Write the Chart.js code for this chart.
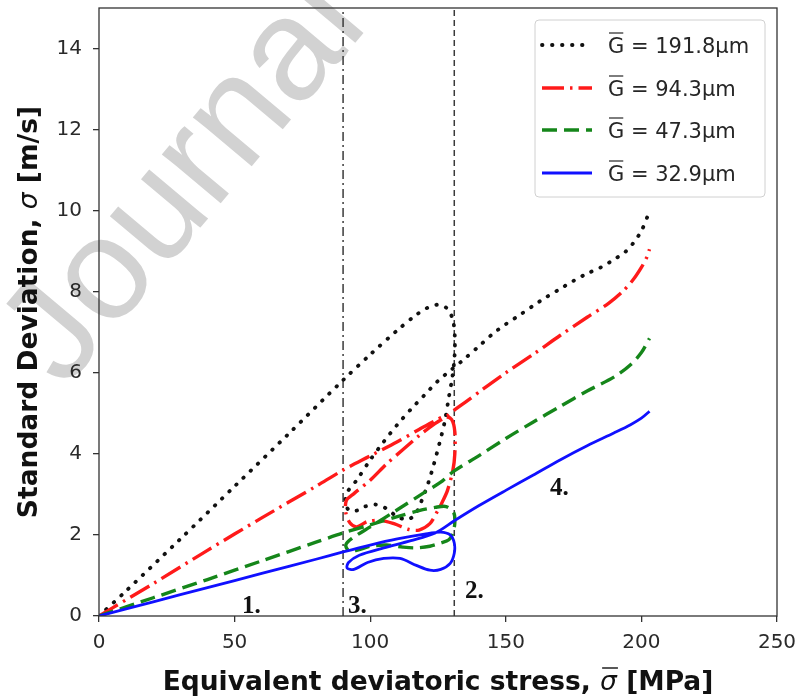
<!DOCTYPE html>
<html>
<head>
<meta charset="utf-8">
<script src="https://cdn.jsdelivr.net/npm/chart.js@4.4.1/dist/chart.umd.min.js"></script>
<style>
  html, body { margin: 0; padding: 0; background: #fff; }
  canvas { display: block; }
</style>
</head>
<body>
<canvas id="grafico" width="799" height="699"></canvas>
<script>
// Datos: tensión equivalente (MPa) y desviación estándar (m/s) por tamaño de grano
const stress191 = [0, 10, 30, 50, 70, 90, 100, 110, 117, 121, 125, 128.5, 130.5, 131.2, 131.1, 130.3, 129, 127.5, 125.5, 123.5, 121.5, 119, 117, 114, 110, 106, 102, 98, 95, 92, 90.8, 91.8, 95, 100, 105, 110, 115, 120, 125, 130, 134, 140, 145, 150, 155, 160, 165, 170, 175, 180, 185, 190, 194, 197, 200, 202.5];
const sd191 = [0, 0.62, 1.9, 3.2, 4.5, 5.82, 6.45, 7.05, 7.43, 7.6, 7.68, 7.58, 7.3, 6.9, 6.4, 5.9, 5.4, 4.8, 4.25, 3.75, 3.3, 2.85, 2.55, 2.38, 2.45, 2.65, 2.75, 2.7, 2.6, 2.62, 2.85, 3.08, 3.35, 3.85, 4.3, 4.72, 5.1, 5.45, 5.8, 6.08, 6.3, 6.65, 6.95, 7.2, 7.42, 7.65, 7.87, 8.07, 8.27, 8.45, 8.6, 8.8, 8.98, 9.2, 9.5, 9.9];

const stress94 = [0, 5, 20, 40, 60, 80, 90, 100, 110, 118, 124, 127.5, 130, 131.2, 131.2, 130.5, 128.5, 126.5, 124.5, 122, 118, 114, 109, 104, 99, 95, 92.5, 91, 91.2, 94, 100, 106, 112, 118, 124, 128, 131, 136, 141, 150, 160, 170, 180, 188, 193, 197, 200, 202, 203];
const sd94 = [0, 0.2, 0.8, 1.62, 2.42, 3.2, 3.6, 3.95, 4.3, 4.6, 4.82, 4.92, 4.85, 4.55, 4.0, 3.6, 3.1, 2.8, 2.55, 2.28, 2.12, 2.14, 2.27, 2.36, 2.33, 2.2, 2.3, 2.55, 2.85, 3.02, 3.35, 3.75, 4.1, 4.45, 4.75, 4.92, 5.08, 5.32, 5.57, 6.0, 6.45, 6.92, 7.37, 7.72, 8.0, 8.3, 8.6, 8.85, 9.05];

const stress47 = [0, 20, 40, 60, 80, 90, 100, 110, 118, 124, 128, 130.8, 131.2, 130.5, 129, 126, 122, 117, 112, 106, 100, 95, 92, 91, 93, 100, 110, 120, 126, 131, 140, 150, 160, 170, 180, 190, 196, 200, 203];
const sd47 = [0, 0.45, 0.9, 1.36, 1.82, 2.05, 2.25, 2.45, 2.6, 2.68, 2.7, 2.55, 2.3, 2.05, 1.88, 1.8, 1.72, 1.68, 1.7, 1.75, 1.72, 1.62, 1.62, 1.75, 1.9, 2.2, 2.62, 3.05, 3.3, 3.58, 3.95, 4.38, 4.78, 5.17, 5.55, 5.9, 6.2, 6.5, 6.85];

const stress32 = [0, 20, 40, 60, 80, 90, 100, 110, 120, 126, 129.5, 131, 131, 129.5, 126, 122, 117, 111, 105, 99, 94, 91.5, 92, 96, 105, 115, 124, 131, 140, 150, 160, 170, 180, 190, 196, 200, 203];
const sd32 = [0, 0.35, 0.7, 1.05, 1.4, 1.58, 1.75, 1.9, 2.02, 2.07, 2.0, 1.8, 1.55, 1.3, 1.15, 1.13, 1.25, 1.42, 1.42, 1.32, 1.15, 1.18, 1.32, 1.5, 1.68, 1.86, 2.05, 2.35, 2.72, 3.1, 3.47, 3.85, 4.2, 4.52, 4.72, 4.88, 5.05];

const grainLabels = ['191.8', '94.3', '47.3', '32.9'];
const phaseBoundaries = [90, 131];
const phaseTags = ['1.', '2.', '3.', '4.'];
const phaseTagX = [52.7, 135, 91.8, 166.3];
const phaseTagY = [0.07, 0.44, 0.07, 2.98];
const xTicks = [0, 50, 100, 150, 200, 250];
const yTicks = [0, 2, 4, 6, 8, 10, 12, 14];

const FUENTE = '"DejaVu Sans", sans-serif';
const TITULO_PX = 26.5;

function puntos(xs, ys) {
    return xs.map((x, i) => ({ x: x, y: ys[i] }));
}

function curva(label, xs, ys, color, dash, width, cap, order) {
    return {
        label: label,
        data: puntos(xs, ys),
        showLine: true,
        borderColor: color,
        backgroundColor: color,
        borderWidth: width,
        borderDash: dash,
        borderCapStyle: cap,
        borderJoinStyle: 'round',
        pointRadius: 0,
        tension: 0.3,
        fill: false,
        order: order
    };
}

function limite(x, dash) {
    return {
        label: '',
        data: [{ x: x, y: 0 }, { x: x, y: 15 }],
        showLine: true,
        borderColor: '#3a3a3a',
        borderWidth: 1.5,
        borderDash: dash,
        pointRadius: 0,
        tension: 0,
        fill: false,
        order: 5
    };
}

const series = [
    curva(grainLabels[0], stress191, sd191, '#111111', [0.5, 9.5], 3.8, 'round', 3),
    curva(grainLabels[1], stress94, sd94, '#ff1a1a', [22, 6, 2.5, 6], 3.4, 'butt', 2),
    curva(grainLabels[2], stress47, sd47, '#15861a', [15, 7], 3.4, 'butt', 1),
    curva(grainLabels[3], stress32, sd32, '#1010ff', [], 2.8, 'butt', 0),
    limite(phaseBoundaries[0], [9, 4, 2, 4]),
    limite(phaseBoundaries[1], [6, 4])
];

// Dibuja un texto compuesto por tramos (negrita / cursiva) centrado en x
function textoTramos(ctx, tramos, x, y) {
    const anchos = tramos.map(t => { ctx.font = t.font; return ctx.measureText(t.text).width; });
    const total = anchos.reduce((a, b) => a + b, 0);
    let cx = x - total / 2;
    const pos = [];
    tramos.forEach((t, i) => {
        ctx.font = t.font;
        ctx.fillText(t.text, cx, y);
        pos.push({ x: cx, w: anchos[i] });
        cx += anchos[i];
    });
    return pos;
}

// Marca de agua de fondo
const marcaAgua = {
    id: 'marcaAgua',
    beforeDraw(chart) {
        const ctx = chart.ctx;
        ctx.save();
        ctx.translate(64, 390);
        ctx.rotate(-50 * Math.PI / 180);
        ctx.font = '145px "Liberation Sans", Arial, sans-serif';
        ctx.fillStyle = '#d2d2d2';
        ctx.textBaseline = 'alphabetic';
        ctx.fillText('Journal Pre-proof', 0, 0);
        ctx.restore();
    }
};

// Marco, títulos de ejes, etiquetas de fase y leyenda
const extras = {
    id: 'extras',
    afterDraw(chart) {
        const ctx = chart.ctx;
        const a = chart.chartArea;
        const sx = chart.scales.x;
        const sy = chart.scales.y;
        const negrita = 'bold ' + TITULO_PX + 'px ' + FUENTE;
        const cursiva = 'italic ' + TITULO_PX + 'px ' + FUENTE;

        ctx.save();
        ctx.strokeStyle = '#333333';
        ctx.lineWidth = 1.3;
        ctx.strokeRect(a.left, a.top, a.right - a.left, a.bottom - a.top);

        // Título eje X
        ctx.fillStyle = '#111111';
        ctx.textAlign = 'left';
        ctx.textBaseline = 'alphabetic';
        const px = textoTramos(ctx, [
            { text: 'Equivalent deviatoric stress, ', font: negrita },
            { text: 'σ', font: cursiva },
            { text: ' [MPa]', font: negrita }
        ], (a.left + a.right) / 2, 690);
        ctx.beginPath();
        ctx.lineWidth = 1.4;
        ctx.strokeStyle = '#111111';
        ctx.moveTo(px[1].x + 2, 668);
        ctx.lineTo(px[1].x + px[1].w + 1, 668);
        ctx.stroke();

        // Título eje Y
        ctx.save();
        ctx.translate(37, (a.top + a.bottom) / 2);
        ctx.rotate(-Math.PI / 2);
        textoTramos(ctx, [
            { text: 'Standard Deviation, ', font: negrita },
            { text: 'σ', font: cursiva },
            { text: ' [m/s]', font: negrita }
        ], 0, 0);
        ctx.restore();

        // Etiquetas de las fases
        ctx.fillStyle = '#111111';
        ctx.font = 'bold 25px "Liberation Serif", "Times New Roman", serif';
        phaseTags.forEach((t, i) => {
            ctx.fillText(t, sx.getPixelForValue(phaseTagX[i]), sy.getPixelForValue(phaseTagY[i]));
        });
        ctx.restore();

        // Leyenda
        ctx.save();
        const bx = 535, by = 20, bw = 230, bh = 177;
        ctx.beginPath();
        ctx.roundRect(bx, by, bw, bh, 4);
        ctx.fillStyle = 'rgba(255,255,255,0.85)';
        ctx.fill();
        ctx.strokeStyle = '#d0d0d0';
        ctx.lineWidth = 1;
        ctx.stroke();

        const filas = [45, 88, 130, 173];
        chart.data.datasets.filter(d => d.label).forEach((d, i) => {
            const y = filas[i];
            ctx.beginPath();
            ctx.strokeStyle = d.borderColor;
            ctx.lineWidth = d.borderWidth;
            ctx.lineCap = d.borderCapStyle;
            ctx.setLineDash(d.borderDash);
            ctx.moveTo(542, y);
            ctx.lineTo(592, y);
            ctx.stroke();
            ctx.setLineDash([]);

            ctx.fillStyle = '#262626';
            ctx.font = '21px ' + FUENTE;
            ctx.textBaseline = 'alphabetic';
            ctx.textAlign = 'left';
            const x0 = 608;
            ctx.fillText('G', x0, y + 8);
            const wG = ctx.measureText('G').width;
            ctx.beginPath();
            ctx.lineWidth = 1.2;
            ctx.strokeStyle = '#262626';
            ctx.lineCap = 'butt';
            ctx.moveTo(x0 + 1, y - 12);
            ctx.lineTo(x0 + wG - 1, y - 12);
            ctx.stroke();
            ctx.fillText(' = ' + d.label + 'μm', x0 + wG, y + 8);
        });
        ctx.restore();
    }
};

const ctx = document.getElementById('grafico').getContext('2d');
const grafico = new Chart(ctx, {
    type: 'scatter',
    data: { datasets: series },
    options: {
        responsive: false,
        animation: false,
        layout: { padding: { left: 0, right: 22, top: 8, bottom: 0 } },
        plugins: {
            legend: { display: false },
            tooltip: { enabled: false }
        },
        scales: {
            x: {
                type: 'linear',
                min: 0,
                max: 250,
                afterBuildTicks: (scale) => { scale.ticks = xTicks.map(v => ({ value: v })); },
                afterFit: (scale) => {
                    scale.height = 83;
                    scale.paddingLeft = 0;
                    scale.paddingRight = 0;
                },
                border: { display: false },
                grid: { drawOnChartArea: false, drawTicks: true, tickLength: 6, tickColor: '#333333', lineWidth: 1.3 },
                ticks: {
                    color: '#2a2a2a',
                    padding: 9,
                    maxRotation: 0,
                    font: { family: FUENTE, size: 20 }
                }
            },
            y: {
                type: 'linear',
                min: 0,
                max: 15,
                afterBuildTicks: (scale) => { scale.ticks = yTicks.map(v => ({ value: v })); },
                afterFit: (scale) => {
                    scale.width = 99;
                    scale.paddingTop = 0;
                    scale.paddingBottom = 0;
                },
                border: { display: false },
                grid: { drawOnChartArea: false, drawTicks: true, tickLength: 6, tickColor: '#333333', lineWidth: 1.3 },
                ticks: {
                    color: '#2a2a2a',
                    padding: 11,
                    font: { family: FUENTE, size: 20 }
                }
            }
        }
    },
    plugins: [marcaAgua, extras]
});
</script>
</body>
</html>
